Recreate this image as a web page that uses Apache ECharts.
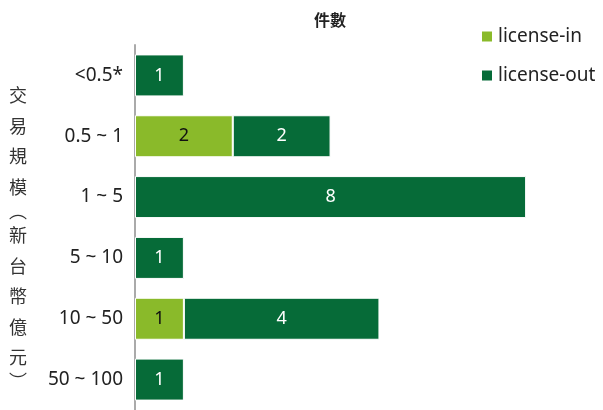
<!DOCTYPE html>
<html>
<head>
<meta charset="utf-8">
<script src="https://cdn.jsdelivr.net/npm/echarts@6/dist/echarts.min.js"></script>
<style>
  html, body { margin: 0; padding: 0; background: #fff; }
  #chart { width: 603px; height: 410px; }
</style>
</head>
<body>
<div id="chart"></div>
<script>
// 交易規模級距（由上到下）
var categories = ['<0.5*', '0.5 ~ 1', '1 ~ 5', '5 ~ 10', '10 ~ 50', '50 ~ 100'];
var licenseIn = [0, 2, 0, 0, 1, 0];
var licenseOut = [1, 2, 8, 1, 4, 1];
var axisNameChars = ['交', '易', '規', '模', '︵', '新', '台', '幣', '億', '元', '︶'];

var font = "'Noto Sans', 'Noto Sans CJK TC', sans-serif";

// 直排的軸名稱，括號行高較小
var nameText = axisNameChars.map(function (c) {
  return (c === '︵' || c === '︶') ? '{p|' + c + '}' : '{c|' + c + '}';
}).join('\n');

var chart = echarts.init(document.getElementById('chart'));
chart.setOption({
  backgroundColor: '#fff',
  title: {
    text: '件數',
    left: 325,
    top: 8,
    textAlign: 'center',
    textStyle: { fontFamily: font, fontSize: 16, fontWeight: 'bold', color: '#222' }
  },
  legend: {
    orient: 'vertical',
    left: 475,
    top: 22,
    itemWidth: 12,
    itemHeight: 12,
    itemGap: 20,
    icon: 'rect',
    textStyle: { fontFamily: font, fontSize: 19, color: '#222' },
    data: ['license-in', 'license-out']
  },
  graphic: [{
    type: 'text',
    left: 9,
    top: 88,
    style: {
      text: nameText,
      fill: '#333',
      font: '18px ' + font,
      rich: {
        c: { fontSize: 18, lineHeight: 30.5, fontFamily: font, fill: '#333' },
        p: { fontSize: 18, lineHeight: 18, fontFamily: font, fill: '#333' }
      }
    }
  }],
  grid: { left: 135, right: 28, top: 45, bottom: -7 },
  xAxis: {
    type: 'value',
    min: 0,
    max: 9,
    show: false
  },
  yAxis: {
    type: 'category',
    inverse: true,
    data: categories,
    axisLine: { show: true, lineStyle: { color: '#aaa', width: 2 } },
    axisTick: { show: false },
    axisLabel: { fontFamily: font, fontSize: 19, color: '#222', margin: 12 }
  },
  series: [{
    name: 'license-in',
    type: 'bar',
    stack: 'total',
    barWidth: 42,
    data: licenseIn.map(function (v) { return v === 0 ? null : v; }),
    itemStyle: { color: '#8aba2a', borderColor: '#fff', borderWidth: 1 },
    label: { show: true, position: 'inside', fontFamily: font, fontSize: 18, color: '#111' }
  }, {
    name: 'license-out',
    type: 'bar',
    stack: 'total',
    barWidth: 42,
    data: licenseOut,
    itemStyle: { color: '#066b38', borderColor: '#fff', borderWidth: 1 },
    label: { show: true, position: 'inside', fontFamily: font, fontSize: 18, color: '#fff' }
  }]
});
</script>
</body>
</html>
